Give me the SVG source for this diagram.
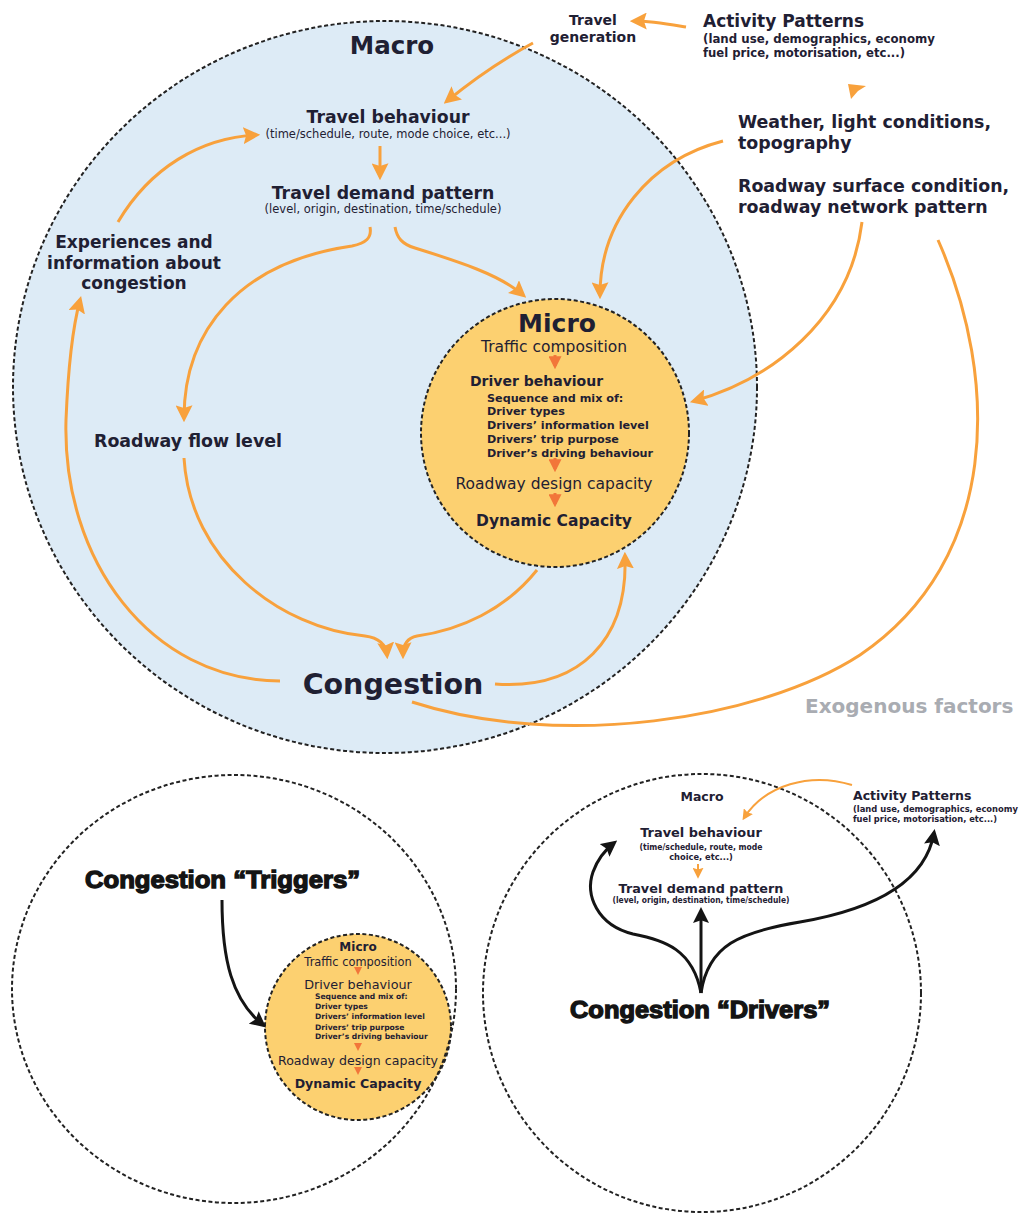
<svg xmlns="http://www.w3.org/2000/svg" width="1022" height="1215" viewBox="0 0 1022 1215">
  <defs>
    <style>
      .t { font-family: "DejaVu Sans", Verdana, sans-serif; fill: #1f2033; }
      .b { font-weight: bold; }
      .c { text-anchor: middle; }
      .heavy { font-family: "Liberation Sans", Arial, sans-serif; font-weight: bold; fill: #141414; stroke: #141414; stroke-width: 1.3; }
      .exo { font-family: "DejaVu Sans", Verdana, sans-serif; font-weight: bold; fill: #a9acb2; }
      .dash { fill: none; stroke: #222; stroke-width: 2; stroke-dasharray: 4 2.5; }
      .macro-fill { fill: #ddebf6; stroke: none; }
      .micro-fill { fill: #fcd070; stroke: none; }
      .or { fill: none; stroke: #f8a13c; stroke-width: 3; }
      .or2 { fill: none; stroke: #f8a13c; stroke-width: 2; }
      .rd { fill: none; stroke: #f2763a; stroke-width: 3; }
      .rd2 { fill: none; stroke: #f2763a; stroke-width: 2; }
      .bk { fill: none; stroke: #141414; stroke-width: 3; }
    </style>
    <marker id="ahO" viewBox="0 0 12 12" refX="9" refY="6" markerWidth="17" markerHeight="17" markerUnits="userSpaceOnUse" orient="auto">
      <path d="M0,0 L12,6 L0,12 L2,6 z" fill="#f8a13c"/>
    </marker>
    <marker id="ahOs" viewBox="0 0 12 12" refX="9" refY="6" markerWidth="11" markerHeight="11" markerUnits="userSpaceOnUse" orient="auto">
      <path d="M0,0 L12,6 L0,12 L2,6 z" fill="#f8a13c"/>
    </marker>
    <marker id="ahR" viewBox="0 0 12 12" refX="9" refY="6" markerWidth="13" markerHeight="13" markerUnits="userSpaceOnUse" orient="auto">
      <path d="M0,0 L12,6 L0,12 z" fill="#f2763a"/>
    </marker>
    <marker id="ahRs" viewBox="0 0 12 12" refX="9" refY="6" markerWidth="8" markerHeight="8" markerUnits="userSpaceOnUse" orient="auto">
      <path d="M0,0 L12,6 L0,12 z" fill="#f2763a"/>
    </marker>
    <marker id="ahK" viewBox="0 0 12 12" refX="9" refY="6" markerWidth="16" markerHeight="16" markerUnits="userSpaceOnUse" orient="auto">
      <path d="M0,0 L12,6 L0,12 L2,6 z" fill="#141414"/>
    </marker>
  </defs>

  <!-- ===== Upper diagram: macro / micro ===== -->
  <g id="macro-circle">
    <ellipse cx="385" cy="387" rx="372" ry="366" class="macro-fill"/>
    <ellipse cx="385" cy="387" rx="372" ry="366" class="dash"/>
    <text class="t b c" x="392" y="54" font-size="24.5">Macro</text>
  </g>

  <g id="micro-circle">
    <circle cx="555" cy="433" r="134" class="micro-fill"/>
    <circle cx="555" cy="433" r="134" class="dash"/>
    <text class="t b c" x="557" y="332" font-size="25">Micro</text>
    <text class="t c" x="554" y="352" font-size="15.5">Traffic composition</text>
    <text class="t b" x="470" y="386" font-size="14">Driver behaviour</text>
    <text class="t b" x="487" y="402" font-size="11.2">Sequence and mix of:</text>
    <text class="t b" x="487" y="415" font-size="11.2">Driver types</text>
    <text class="t b" x="487" y="429" font-size="11.2">Drivers’ information level</text>
    <text class="t b" x="487" y="443" font-size="11.2">Drivers’ trip purpose</text>
    <text class="t b" x="487" y="457" font-size="11.2">Driver’s driving behaviour</text>
    <text class="t c" x="554" y="489" font-size="15.5">Roadway design capacity</text>
    <text class="t b c" x="554" y="526" font-size="15.5">Dynamic Capacity</text>
  </g>

  <g id="travel-generation">
    <text class="t b c" x="593" y="25" font-size="14">Travel</text>
    <text class="t b c" x="593" y="42" font-size="14">generation</text>
  </g>

  <g id="activity-patterns">
    <text class="t b" x="703" y="27" font-size="17">Activity Patterns</text>
    <text class="t b" x="703" y="43" font-size="11.5" textLength="232" lengthAdjust="spacingAndGlyphs">(land use, demographics, economy</text>
    <text class="t b" x="703" y="57" font-size="11.5" textLength="202" lengthAdjust="spacingAndGlyphs">fuel price, motorisation, etc...)</text>
  </g>

  <g id="weather">
    <text class="t b" x="738" y="128" font-size="17.4">Weather, light conditions,</text>
    <text class="t b" x="738" y="149" font-size="17.4">topography</text>
  </g>

  <g id="roadway-surface">
    <text class="t b" x="738" y="192" font-size="17.4">Roadway surface condition,</text>
    <text class="t b" x="738" y="213" font-size="17.4">roadway network pattern</text>
  </g>

  <g id="travel-behaviour">
    <text class="t b c" x="388" y="123" font-size="17.3">Travel behaviour</text>
    <text class="t c" x="388" y="138" font-size="11.5">(time/schedule, route, mode choice, etc...)</text>
  </g>

  <g id="travel-demand">
    <text class="t b c" x="383" y="199" font-size="17.3">Travel demand pattern</text>
    <text class="t c" x="383" y="213" font-size="11.5">(level, origin, destination, time/schedule)</text>
  </g>

  <g id="experiences">
    <text class="t b c" x="134" y="248" font-size="17">Experiences and</text>
    <text class="t b c" x="134" y="269" font-size="17">information about</text>
    <text class="t b c" x="134" y="289" font-size="17">congestion</text>
  </g>

  <g id="roadway-flow">
    <text class="t b c" x="188" y="447" font-size="17.4">Roadway flow level</text>
  </g>

  <g id="congestion">
    <text class="t b c" x="393" y="694" font-size="28.5">Congestion</text>
  </g>

  <g id="exogenous">
    <text class="exo" x="805" y="713" font-size="20">Exogenous factors</text>
  </g>

  <!-- ===== Lower left: triggers ===== -->
  <g id="triggers-micro">
    <circle cx="358" cy="1027" r="93" class="micro-fill"/>
  </g>
  <g id="triggers-circle">
    <ellipse cx="234" cy="989" rx="222" ry="214" class="dash"/>
    <text class="heavy" x="85" y="888" font-size="23" textLength="275" lengthAdjust="spacingAndGlyphs">Congestion “Triggers”</text>
  </g>
  <g id="triggers-micro-content">
    <circle cx="358" cy="1027" r="93" class="dash"/>
    <text class="t b c" x="358" y="951" font-size="12">Micro</text>
    <text class="t c" x="358" y="966" font-size="11.4">Traffic composition</text>
    <text class="t c" x="358" y="989" font-size="12.8">Driver behaviour</text>
    <text class="t b" x="315" y="999" font-size="7.6">Sequence and mix of:</text>
    <text class="t b" x="315" y="1009" font-size="7.6">Driver types</text>
    <text class="t b" x="315" y="1019" font-size="7.6">Drivers’ information level</text>
    <text class="t b" x="315" y="1030" font-size="7.6">Drivers’ trip purpose</text>
    <text class="t b" x="315" y="1039" font-size="7.6">Driver’s driving behaviour</text>
    <text class="t c" x="358" y="1065" font-size="12.6">Roadway design capacity</text>
    <text class="t b c" x="358" y="1088" font-size="12.6">Dynamic Capacity</text>
  </g>

  <!-- ===== Lower right: drivers ===== -->
  <g id="drivers-circle">
    <circle cx="702" cy="993" r="219" class="dash"/>
    <text class="t b c" x="702" y="801" font-size="12.5">Macro</text>
    <text class="heavy" x="570" y="1018" font-size="23" textLength="260" lengthAdjust="spacingAndGlyphs">Congestion “Drivers”</text>
  </g>
  <g id="drivers-travel-behaviour">
    <text class="t b c" x="701" y="837" font-size="12.9">Travel behaviour</text>
    <text class="t b c" x="701" y="850" font-size="8.3" textLength="123" lengthAdjust="spacingAndGlyphs">(time/schedule, route, mode</text>
    <text class="t b c" x="701" y="860" font-size="8.3">choice, etc...)</text>
  </g>
  <g id="drivers-travel-demand">
    <text class="t b c" x="701" y="893" font-size="12.8">Travel demand pattern</text>
    <text class="t b c" x="701" y="903" font-size="8.3" textLength="177" lengthAdjust="spacingAndGlyphs">(level, origin, destination, time/schedule)</text>
  </g>
  <g id="drivers-activity">
    <text class="t b" x="853" y="800" font-size="12.5">Activity Patterns</text>
    <text class="t b" x="853" y="812" font-size="8.3" textLength="165" lengthAdjust="spacingAndGlyphs">(land use, demographics, economy</text>
    <text class="t b" x="853" y="822" font-size="8.3" textLength="144" lengthAdjust="spacingAndGlyphs">fuel price, motorisation, etc...)</text>
  </g>

  <!-- ===== Connectors ===== -->
  <g id="connectors">
    <!-- upper diagram -->
    <path class="or" d="M686,27 C668,24 652,21 634,21" marker-end="url(#ahO)"/>
    <path class="or" d="M533,43 Q490,66 447,101" marker-end="url(#ahO)"/>
    <path class="or" d="M380,146 L380,176" marker-end="url(#ahO)"/>
    <path class="or" d="M118,222 C150,168 200,138 256,135" marker-end="url(#ahO)"/>
    <path class="or" d="M370,227 C372,238 366,243 352,246 C240,262 184,330 184,418" marker-end="url(#ahO)"/>
    <path class="or" d="M395,227 C397,238 402,244 415,248 C460,262 500,275 523,295" marker-end="url(#ahO)"/>
    <path class="or" d="M723,141 C650,160 600,220 600,295" marker-end="url(#ahO)"/>
    <path class="or" d="M862,222 C850,320 770,380 694,401" marker-end="url(#ahO)"/>
    <path class="or" d="M184,458 C190,560 280,628 365,636 C380,638 386,645 387,655" marker-end="url(#ahO)"/>
    <path class="or" d="M537,570 C505,610 460,630 417,636 C407,638 403,645 403,655" marker-end="url(#ahO)"/>
    <path class="or" d="M495,684 C580,690 628,640 625,556" marker-end="url(#ahO)"/>
    <path class="or" d="M280,681 C150,680 62,560 66,420 C68,370 72,330 80,300" marker-end="url(#ahO)"/>
    <path class="or" stroke-width="2.5" d="M938,240 C1000,380 1000,560 860,655 C760,720 560,750 412,702"/>
    <path d="M848,84 L866,86 L858,91 L851,99 z" fill="#f8a13c"/>
    <!-- micro chain -->
    <path class="rd" d="M555,355 L555,366" marker-end="url(#ahR)"/>
    <path class="rd" d="M555,458 L555,469" marker-end="url(#ahR)"/>
    <path class="rd" d="M555,493 L555,504" marker-end="url(#ahR)"/>
    <!-- triggers -->
    <path class="bk" d="M222,900 C222,960 232,1000 263,1025" marker-end="url(#ahK)"/>
    <path class="rd2" d="M358,968 L358,973" marker-end="url(#ahRs)"/>
    <path class="rd2" d="M358,1044 L358,1049" marker-end="url(#ahRs)"/>
    <path class="rd2" d="M358,1068 L358,1073" marker-end="url(#ahRs)"/>
    <!-- drivers -->
    <path class="or2" d="M852,785 C810,772 765,785 744,818" marker-end="url(#ahOs)"/>
    <path class="or2" d="M698,864 L698,876" marker-end="url(#ahOs)"/>
    <path class="bk" d="M701,993 L701,911" marker-end="url(#ahK)"/>
    <path class="bk" d="M701,993 C693,950 665,940 633,934 C597,925 585,895 593,872 C598,858 605,850 614,843" marker-end="url(#ahK)"/>
    <path class="bk" d="M701,993 C708,945 740,932 800,922 C870,910 925,885 934,833" marker-end="url(#ahK)"/>
  </g>
</svg>
